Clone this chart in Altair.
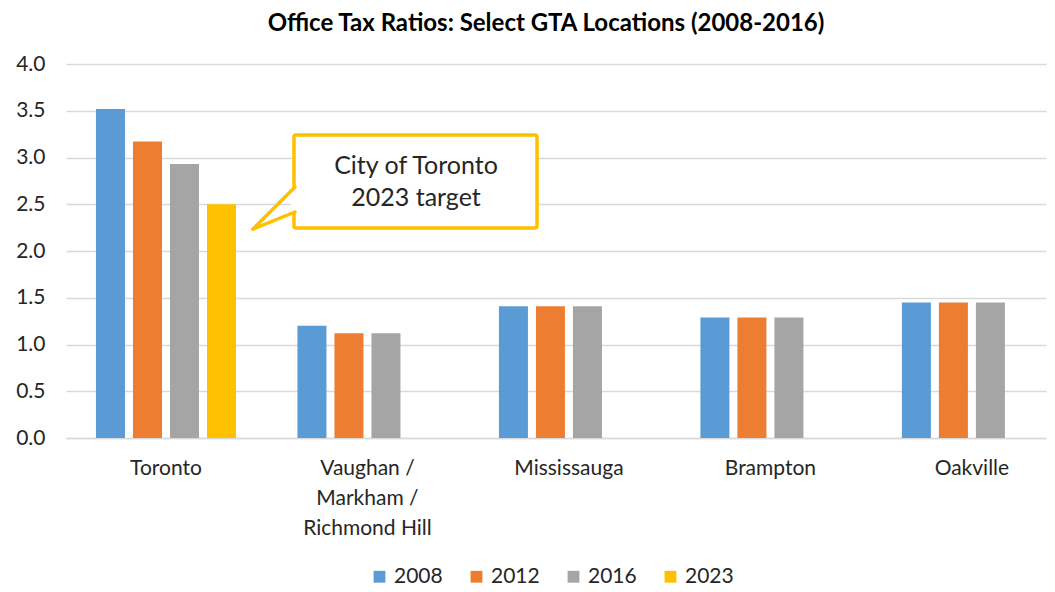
import altair as alt
import pandas as pd

cities = ["Toronto", "Vaughan / Markham / Richmond Hill", "Mississauga", "Brampton", "Oakville"]
years = ["2008", "2012", "2016", "2023"]
colors = ["#5B9BD5", "#ED7D31", "#A5A5A5", "#FFC000"]

v2008 = [3.52, 1.20, 1.41, 1.29, 1.45]
v2012 = [3.17, 1.12, 1.41, 1.29, 1.45]
v2016 = [2.93, 1.12, 1.41, 1.29, 1.45]
v2023 = [2.50, None, None, None, None]

rows = []
for yr, vals in zip(years, [v2008, v2012, v2016, v2023]):
    for c, v in zip(cities, vals):
        if v is not None:
            rows.append({"city": c, "year": yr, "value": v})
df = pd.DataFrame(rows)

FONT = "Lato"
TXT = "#262626"

label_expr = ("datum.value == 'Vaughan / Markham / Richmond Hill' ? "
              "['Vaughan /', 'Markham /', 'Richmond Hill'] : datum.value")

bars = alt.Chart(df).mark_bar().encode(
    x=alt.X("city:N", sort=cities, title=None,
            scale=alt.Scale(paddingInner=0.305, paddingOuter=0.0845, align=0.88),
            axis=alt.Axis(labelAngle=0, labelFont=FONT, labelFontSize=21, labelColor=TXT,
                          labelExpr=label_expr, labelLineHeight=30, labelPadding=19,
                          ticks=False, domainColor="#d9d9d9", domainWidth=1.5,
                          labelBaseline="top")),
    xOffset=alt.XOffset("year:N", sort=years, scale=alt.Scale(paddingInner=0.216)),
    y=alt.Y("value:Q", title=None,
            scale=alt.Scale(domain=[0, 4]),
            axis=alt.Axis(values=[0, 0.5, 1, 1.5, 2, 2.5, 3, 3.5, 4], format=".1f",
                          labelFont=FONT, labelFontSize=21, labelColor=TXT,
                          labelPadding=21, ticks=False, domain=False,
                          gridColor="#d9d9d9", gridWidth=1.5)),
    color=alt.Color("year:N", sort=years, title=None,
                    scale=alt.Scale(domain=years, range=colors),
                    legend=alt.Legend(orient="none", direction="horizontal",
                                      legendX=303, legendY=502,
                                      symbolType="square", symbolSize=140,
                                      symbolStrokeWidth=0, labelLimit=300,
                                      labelFont=FONT, labelFontSize=21, labelColor=TXT,
                                      labelOffset=4, columnPadding=23)),
)

one = pd.DataFrame({"a": [0]})

box = alt.Chart(one).mark_rect(fill="white", stroke="#FFC000", strokeWidth=3.5,
                               cornerRadius=2).encode(
    x=alt.value(228), x2=alt.value(471), y=alt.value(71), y2=alt.value(164))

cover = alt.Chart(one).mark_rule(color="white", strokeWidth=6).encode(
    x=alt.value(228), x2=alt.value(228), y=alt.value(124), y2=alt.value(147))

tail1 = alt.Chart(one).mark_rule(color="#FFC000", strokeWidth=3.5, strokeCap="round").encode(
    x=alt.value(229), x2=alt.value(187), y=alt.value(123), y2=alt.value(165))
tail2 = alt.Chart(one).mark_rule(color="#FFC000", strokeWidth=3.5, strokeCap="round").encode(
    x=alt.value(187), x2=alt.value(229), y=alt.value(165), y2=alt.value(148))

txt = alt.Chart(one).mark_text(text=["City of Toronto", "2023 target"], font=FONT,
                               fontSize=25, color=TXT, lineHeight=32,
                               align="center", baseline="middle").encode(
    x=alt.value(350), y=alt.value(102))

chart = alt.layer(bars, box, cover, tail1, tail2, txt).properties(
    width=980, height=374,
    title=alt.TitleParams("Office Tax Ratios: Select GTA Locations (2008-2016)",
                          font=FONT, fontSize=24, fontWeight="bold", color="#000000",
                          anchor="middle", frame="group", dx=-10, offset=17),
    padding={"left": 58, "top": 56, "right": 1, "bottom": 154},
    autosize=alt.AutoSizeParams(type="none"),
).configure_view(stroke=None)

chart.save("out.html", embed_options={"renderer": "svg", "actions": False})
